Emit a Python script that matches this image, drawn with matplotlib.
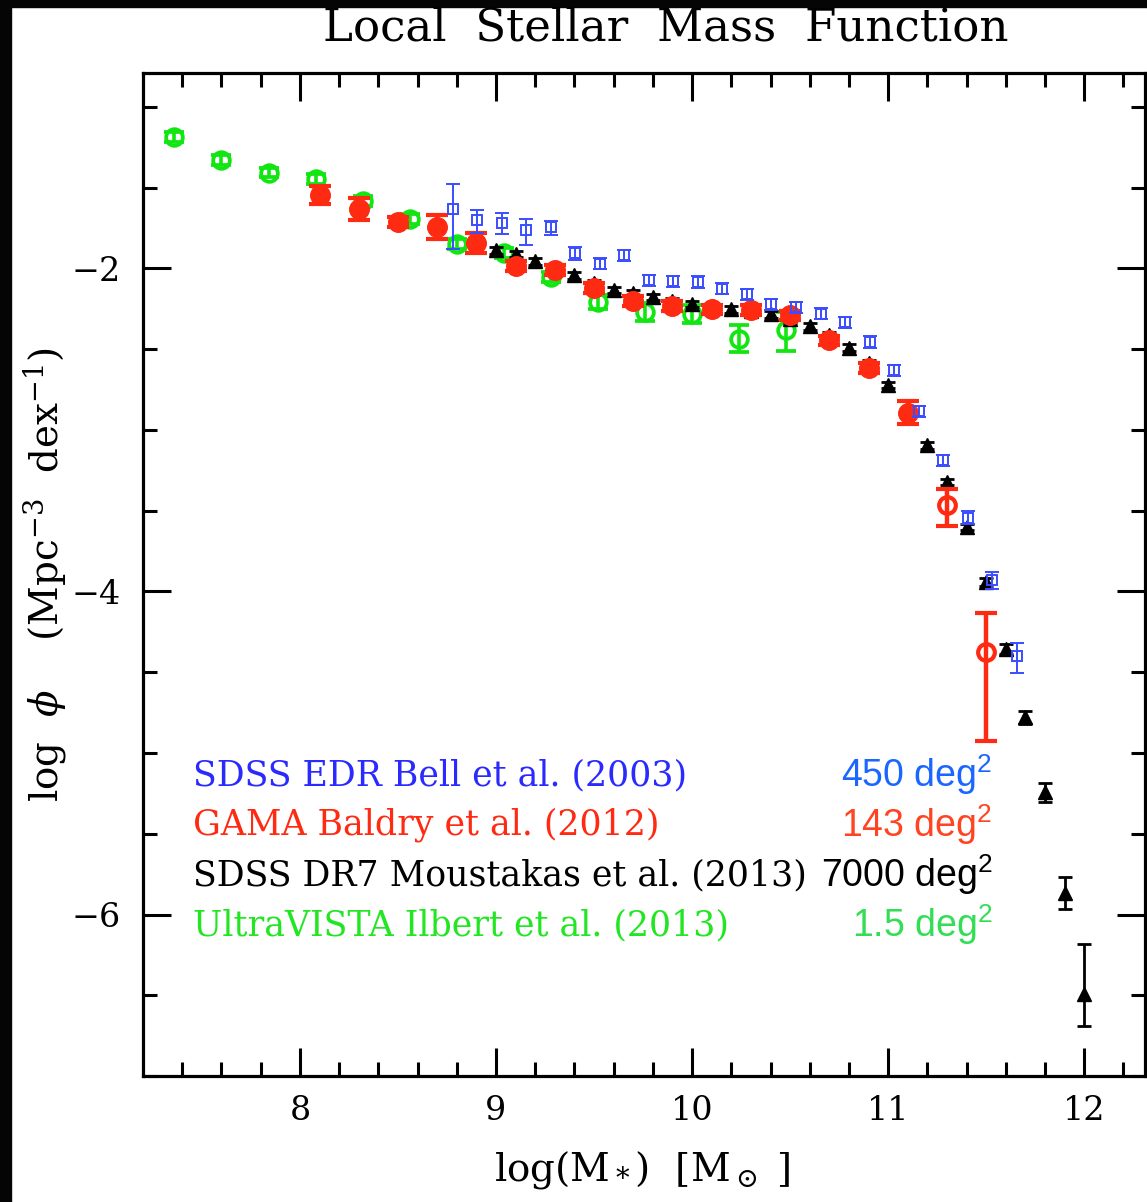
import numpy as np
import matplotlib
matplotlib.use('Agg')
import matplotlib.pyplot as plt
from matplotlib.patches import Rectangle

plt.rcParams['mathtext.fontset'] = 'dejavuserif'

# SDSS EDR, Bell et al. (2003) - open squares
bell_x = [8.78, 8.905, 9.03, 9.155, 9.28, 9.405, 9.53, 9.655, 9.78, 9.905, 10.03, 10.155,
          10.28, 10.405, 10.53, 10.655, 10.78, 10.905, 11.03, 11.155, 11.28, 11.405, 11.53, 11.655]
bell_y = [-1.630, -1.703, -1.717, -1.765, -1.744, -1.905, -1.971, -1.920, -2.074, -2.079, -2.085, -2.126,
          -2.161, -2.223, -2.240, -2.280, -2.333, -2.456, -2.632, -2.884, -3.189, -3.544, -3.932, -4.402]
bell_lo = [0.252, 0.080, 0.072, 0.093, 0.052, 0.04, 0.035, 0.035, 0.035, 0.035, 0.035, 0.035,
           0.035, 0.035, 0.035, 0.035, 0.035, 0.035, 0.035, 0.035, 0.035, 0.04, 0.05, 0.104]
bell_hi = [0.150, 0.062, 0.058, 0.068, 0.035, 0.04, 0.035, 0.035, 0.035, 0.035, 0.035, 0.035,
           0.035, 0.035, 0.035, 0.035, 0.035, 0.035, 0.035, 0.035, 0.035, 0.04, 0.05, 0.080]

# GAMA, Baldry et al. (2012) - circles, thick bars
gama_x = [8.1, 8.3, 8.5, 8.7, 8.9, 9.1, 9.3, 9.5, 9.7, 9.9, 10.1, 10.3, 10.5, 10.7, 10.9, 11.1, 11.3, 11.5]
gama_y = [-1.548, -1.630, -1.713, -1.744, -1.843, -1.986, -2.012, -2.120, -2.202, -2.233, -2.254,
          -2.256, -2.291, -2.446, -2.615, -2.893, -3.467, -4.376]
gama_lo = [0.056, 0.068, 0.03, 0.075, 0.062, 0.03, 0.03, 0.03, 0.03, 0.03, 0.03, 0.03, 0.03, 0.03,
           0.03, 0.07, 0.129, 0.547]
gama_hi = [0.056, 0.068, 0.03, 0.075, 0.062, 0.03, 0.03, 0.03, 0.03, 0.03, 0.03, 0.03, 0.03, 0.03,
           0.03, 0.07, 0.099, 0.240]

# SDSS DR7, Moustakas et al. (2013) - filled triangles
mous_x = [9.0, 9.1, 9.2, 9.3, 9.4, 9.5, 9.6, 9.7, 9.8, 9.9, 10.0, 10.1, 10.2, 10.3, 10.4, 10.5,
          10.6, 10.7, 10.8, 10.9, 11.0, 11.1, 11.2, 11.3, 11.4, 11.5, 11.6, 11.7, 11.8, 11.9, 12.0]
mous_y = [-1.889, -1.910, -1.957, -2.000, -2.043, -2.093, -2.133, -2.155, -2.178, -2.204, -2.220,
          -2.235, -2.254, -2.266, -2.285, -2.316, -2.359, -2.415, -2.491, -2.588, -2.721, -2.879,
          -3.096, -3.323, -3.602, -3.942, -4.355, -4.778, -5.243, -5.868, -6.491]
mous_lo = [0.02] * 25 + [0.025, 0.03, 0.04, 0.06, 0.10, 0.20]
mous_hi = [0.02] * 25 + [0.025, 0.03, 0.04, 0.06, 0.10, 0.31]

# UltraVISTA, Ilbert et al. (2013) - open circles
ilb_x = [7.36, 7.60, 7.84, 8.08, 8.32, 8.56, 8.80, 9.04, 9.28, 9.52, 9.76, 10.0, 10.24, 10.48]
ilb_y = [-1.187, -1.327, -1.407, -1.447, -1.583, -1.692, -1.851, -1.903, -2.054, -2.209, -2.271,
         -2.280, -2.435, -2.380]
ilb_lo = [0.03, 0.03, 0.03, 0.03, 0.03, 0.03, 0.03, 0.03, 0.03, 0.045, 0.057, 0.056, 0.083, 0.134]
ilb_hi = [0.03, 0.03, 0.03, 0.03, 0.03, 0.03, 0.03, 0.03, 0.03, 0.045, 0.057, 0.056, 0.083, 0.109]

labels = ['SDSS EDR Bell et al. (2003)', 'GAMA Baldry et al. (2012)',
          'SDSS DR7 Moustakas et al. (2013)', 'UltraVISTA Ilbert et al. (2013)']
areas = ['450', '143', '7000', '1.5']
label_colors = ['#2a2aff', '#ff2a12', 'black', '#22e622']
area_colors = ['#1a66ff', '#ff4422', 'black', '#33dd55']

c_blue = '#3a4dff'
c_red = '#ff2a12'
c_green = '#12e612'

fig = plt.figure(figsize=(11.47, 12.02), dpi=100)
# dark slide edge on the left and top
fig.patches.append(Rectangle((0, 0), 11 / 1147, 1, transform=fig.transFigure, color='#050505', zorder=0))
fig.patches.append(Rectangle((0, 1 - 7 / 1202), 1, 7 / 1202, transform=fig.transFigure, color='#050505', zorder=0))

ax = fig.add_axes([0.1247, 0.1048, 0.8736, 0.8345])

ax.errorbar(ilb_x, ilb_y, yerr=[ilb_lo, ilb_hi], fmt='o', ms=12, mfc='none', mec=c_green, mew=2.7,
            ecolor=c_green, elinewidth=2.6, capsize=7, capthick=2.6, zorder=2)
ax.errorbar(mous_x, mous_y, yerr=[mous_lo, mous_hi], fmt='^', ms=9.5, color='black',
            ecolor='black', elinewidth=2, capsize=5, capthick=2, zorder=3)
ax.errorbar(gama_x, gama_y, yerr=[gama_lo, gama_hi], fmt='o', ms=12, mfc='none', mec=c_red, mew=3.0,
            ecolor=c_red, elinewidth=3.2, capsize=8, capthick=3.5, zorder=4)
# small-error points look solid in the original (caps cover the circle)
gx = np.array(gama_x)
gy = np.array(gama_y)
small = (np.array(gama_lo) + np.array(gama_hi)) < 0.18
ax.plot(gx[small], gy[small], 'o', ms=13.5, color=c_red, zorder=4)
ax.errorbar(bell_x, bell_y, yerr=[bell_lo, bell_hi], fmt='s', ms=7.5, mfc='none', mec=c_blue, mew=1.4,
            ecolor=c_blue, elinewidth=1.4, capsize=5, capthick=1.4, zorder=5)

ax.set_xlim(7.2, 12.31)
ax.set_ylim(-7.0, -0.79)
ax.set_xticks([8, 9, 10, 11, 12])
ax.set_xticks(np.arange(7.4, 12.31, 0.2), minor=True)
ax.set_yticks([-6, -4, -2])
ax.set_yticks(np.arange(-7.0, -0.79, 0.5), minor=True)
ax.set_yticklabels(['\u22126', '\u22124', '\u22122'])
ax.tick_params(which='both', direction='in', top=True, right=True, width=2.2, labelsize=24)
ax.tick_params(which='major', length=20)
ax.tick_params(which='minor', length=10)
ax.tick_params(axis='x', pad=14)
ax.tick_params(axis='y', pad=16)
for lab in ax.get_xticklabels() + ax.get_yticklabels():
    lab.set_family('DejaVu Serif')
for sp in ax.spines.values():
    sp.set_linewidth(2.3)

# legend text
for i in range(4):
    yy = 0.300 - i * 0.0498
    ax.text(0.05, yy, labels[i], transform=ax.transAxes, color=label_colors[i], fontsize=25,
            family='DejaVu Serif', va='center', ha='left', zorder=6)
    ax.text(0.848, yy, areas[i] + ' deg$^\\mathregular{2}$', transform=ax.transAxes, color=area_colors[i],
            fontsize=27, family='Liberation Sans', va='center', ha='right', zorder=6)

fig.text(0.5806, 0.9767, 'Local  Stellar  Mass  Function', fontsize=32.5, family='DejaVu Serif',
         ha='center', va='center')
fig.text(0.039, 0.5216, 'log  $\\phi$    (Mpc$^{-3}$  dex$^{-1}$)', rotation=90, fontsize=28,
         family='DejaVu Serif', ha='center', va='center')
fig.text(0.5597, 0.0266, 'log(M$_*$)  [M$_\\odot$ ]', fontsize=28, family='DejaVu Serif',
         ha='center', va='center')

fig.savefig('out.png', dpi=100)
